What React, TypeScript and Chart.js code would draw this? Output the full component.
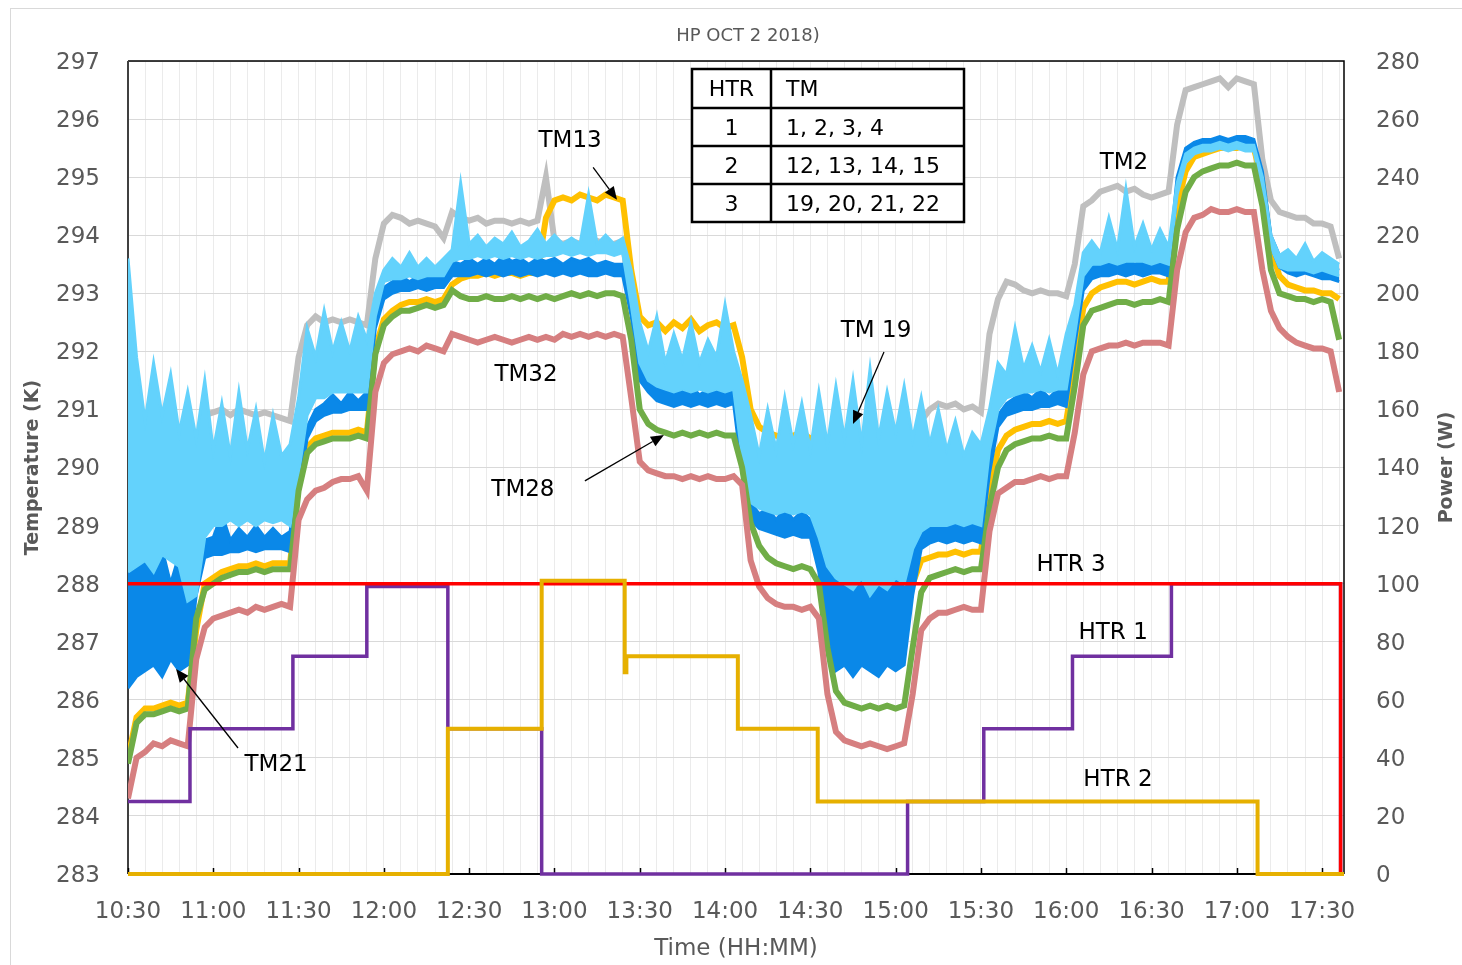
import React, { useEffect, useRef } from 'react';
import { Chart, registerables } from 'chart.js';

Chart.register(...registerables);

// ---------- DATA ----------
// Time axis: minutes after 10:30, temperature samples every 3 minutes.
const START_MIN = 630; // 10:30
const SAMPLE_STEP_MIN = 3;
const X_MAX = 427.7;

// TM32 (pink)
const TM32 = [
  284.3, 285.0, 285.1, 285.25, 285.2, 285.3, 285.25, 285.2, 286.7, 287.25,
  287.4, 287.45, 287.5, 287.55, 287.5, 287.6, 287.55, 287.6, 287.65, 287.6,
  289.1, 289.45, 289.6, 289.65, 289.75, 289.8, 289.8, 289.85, 289.6, 291.3,
  291.8, 291.95, 292.0, 292.05, 292.0, 292.1, 292.05, 292.0, 292.3, 292.25,
  292.2, 292.15, 292.2, 292.25, 292.2, 292.15, 292.2, 292.25, 292.2, 292.25,
  292.2, 292.3, 292.25, 292.3, 292.25, 292.3, 292.25, 292.3, 292.25, 291.2,
  290.1, 289.95, 289.9, 289.85, 289.85, 289.8, 289.85, 289.8, 289.85, 289.8,
  289.8, 289.85, 289.7, 288.4, 287.95, 287.75, 287.65, 287.6, 287.6, 287.55,
  287.6, 287.4, 286.1, 285.45, 285.3, 285.25, 285.2, 285.25, 285.2, 285.15,
  285.2, 285.25, 286.1, 287.2, 287.4, 287.5, 287.5, 287.55, 287.6, 287.55,
  287.55, 288.9, 289.55, 289.65, 289.75, 289.75, 289.8, 289.85, 289.8, 289.85,
  289.85, 290.6, 291.6, 292.0, 292.05, 292.1, 292.1, 292.15, 292.1, 292.15,
  292.15, 292.15, 292.1, 293.4, 294.05, 294.3, 294.35, 294.45, 294.4, 294.4,
  294.45, 294.4, 294.4, 293.4, 292.7, 292.4, 292.25, 292.15, 292.1, 292.05,
  292.05, 292.0, 291.3,
];

// TM28 (green)
const TM28 = [
  284.9, 285.6, 285.75, 285.75, 285.8, 285.85, 285.8, 285.85, 287.4, 287.9,
  288.0, 288.1, 288.15, 288.2, 288.2, 288.25, 288.2, 288.25, 288.25, 288.25,
  289.6, 290.25, 290.4, 290.45, 290.5, 290.5, 290.5, 290.55, 290.5, 291.95,
  292.45, 292.6, 292.7, 292.7, 292.75, 292.8, 292.75, 292.8, 293.05, 292.95,
  292.9, 292.9, 292.95, 292.9, 292.9, 292.95, 292.9, 292.95, 292.9, 292.95,
  292.9, 292.95, 293.0, 292.95, 293.0, 292.95, 293.0, 293.0, 292.95, 292.2,
  291.0, 290.75, 290.65, 290.6, 290.55, 290.6, 290.55, 290.6, 290.55, 290.6,
  290.55, 290.55, 290.0, 289.05, 288.65, 288.45, 288.35, 288.3, 288.25, 288.3,
  288.25, 288.0, 286.9, 286.15, 285.95, 285.9, 285.85, 285.9, 285.85, 285.9,
  285.85, 285.9, 286.9, 287.85, 288.1, 288.15, 288.2, 288.25, 288.2, 288.25,
  288.25, 289.3, 290.0, 290.3, 290.4, 290.45, 290.5, 290.5, 290.55, 290.5,
  290.5, 291.4, 292.45, 292.7, 292.75, 292.8, 292.85, 292.85, 292.8, 292.85,
  292.85, 292.9, 292.85, 294.1, 294.75, 295.0, 295.1, 295.15, 295.2, 295.2,
  295.25, 295.2, 295.2, 294.5, 293.4, 293.0, 292.95, 292.9, 292.9, 292.85,
  292.9, 292.85, 292.2,
];

// TM13 (yellow)
const TM13 = [
  285.0, 285.7, 285.85, 285.85, 285.9, 285.95, 285.9, 285.95, 287.2, 288.0,
  288.1, 288.2, 288.25, 288.3, 288.3, 288.35, 288.3, 288.35, 288.35, 288.35,
  289.7, 290.35, 290.5, 290.55, 290.6, 290.6, 290.6, 290.65, 290.6, 292.05,
  292.55, 292.7, 292.8, 292.85, 292.85, 292.9, 292.85, 292.9, 293.15, 293.25,
  293.3, 293.3, 293.35, 293.3, 293.35, 293.35, 293.3, 293.35, 293.35, 294.3,
  294.6, 294.65, 294.6, 294.7, 294.65, 294.6, 294.7, 294.65, 294.6, 293.4,
  292.6, 292.45, 292.5, 292.35, 292.5, 292.4, 292.55, 292.35, 292.45, 292.5,
  292.4, 292.45, 291.9, 291.0, 290.7, 290.6, 290.55, 290.5, 290.55, 290.6,
  290.5, 290.2, 288.9, 288.0, 287.7, 287.5, 287.8, 287.4, 287.7, 287.3,
  287.75, 287.5, 288.0, 288.4, 288.45, 288.5, 288.5, 288.55, 288.5, 288.55,
  288.55, 289.6, 290.3, 290.55, 290.65, 290.7, 290.75, 290.75, 290.8, 290.75,
  290.8, 291.7, 292.75, 293.0, 293.1, 293.15, 293.2, 293.2, 293.15, 293.2,
  293.25, 293.2, 293.2, 294.5, 295.1, 295.35, 295.4, 295.45, 295.5, 295.5,
  295.5, 295.55, 295.5, 294.9, 293.75, 293.3, 293.15, 293.1, 293.05, 293.05,
  293.0, 293.0, 292.9,
];

// TM21 (dark blue) lower / upper envelope of the noisy trace
const TM21_LOW = [
  286.2, 286.4, 286.5, 286.6, 286.4, 286.7, 286.5, 286.6, 287.8, 288.45,
  288.5, 288.5, 288.55, 288.55, 288.6, 288.55, 288.6, 288.6, 288.6, 288.55,
  289.6, 290.5, 290.8, 290.9, 290.95, 290.95, 291.0, 291.0, 291.0, 292.4,
  292.9, 293.0, 293.05, 293.05, 293.1, 293.05, 293.1, 293.1, 293.3, 293.3,
  293.3, 293.35, 293.3, 293.35, 293.3, 293.35, 293.3, 293.35, 293.3, 293.35,
  293.3, 293.35, 293.3, 293.35, 293.3, 293.3, 293.35, 293.3, 293.3, 292.6,
  291.5, 291.3, 291.15, 291.1, 291.05, 291.1, 291.05, 291.1, 291.05, 291.1,
  291.05, 291.1, 289.9, 289.1, 288.95, 288.9, 288.85, 288.8, 288.85, 288.8,
  288.8, 288.2, 286.9, 286.5, 286.6, 286.4, 286.6, 286.5, 286.4, 286.6,
  286.5, 286.6, 287.8, 288.6, 288.7, 288.75, 288.7, 288.75, 288.7, 288.75,
  288.7, 289.9, 290.7, 290.9, 290.95, 291.0, 291.0, 291.05, 291.05, 291.1,
  291.05, 292.1, 293.05, 293.25, 293.3, 293.3, 293.35, 293.3, 293.35, 293.3,
  293.35, 293.35, 293.3, 294.8, 295.35, 295.5, 295.5, 295.55, 295.55, 295.55,
  295.6, 295.55, 295.55, 294.9, 293.8, 293.45, 293.35, 293.3, 293.35, 293.3,
  293.25, 293.25, 293.2,
];
const TM21_HIGH = [
  289.0, 288.3, 288.9, 288.2, 288.6, 288.0, 288.5, 287.9, 288.4, 288.75,
  288.8, 289.2, 288.75, 288.95, 288.8, 289.0, 288.8, 288.95, 288.8, 288.9,
  289.8, 290.7, 291.0, 291.1, 291.25, 291.1, 291.3, 291.15, 291.3, 292.6,
  293.1, 293.2, 293.3, 293.2, 293.3, 293.25, 293.3, 293.25, 293.55, 293.5,
  293.6, 293.5, 293.6, 293.5, 293.65, 293.55, 293.6, 293.5, 293.6, 293.55,
  293.6, 293.5, 293.6, 293.55, 293.6, 293.5, 293.55, 293.5, 293.5, 292.9,
  291.7, 291.5, 291.4, 291.3, 291.35, 291.3, 291.4, 291.25, 291.35, 291.3,
  291.4, 291.3, 290.3, 289.4, 289.2, 289.3, 289.1, 289.3, 289.1, 289.25,
  289.1, 288.9, 288.5, 288.2, 288.6, 288.0, 288.5, 288.1, 288.6, 288.0,
  288.4, 288.2, 288.6, 288.9, 289.0, 289.05, 289.1, 289.0, 289.1, 289.05,
  289.1, 290.1, 290.9, 291.1, 291.2, 291.3, 291.2, 291.35, 291.2, 291.35,
  291.4, 292.3, 293.25, 293.45, 293.5, 293.6, 293.5, 293.6, 293.5, 293.55,
  293.5, 293.6, 293.5, 295.0, 295.5, 295.6, 295.65, 295.65, 295.7, 295.65,
  295.7, 295.7, 295.65, 295.1, 294.0, 293.65, 293.6, 293.5, 293.55, 293.5,
  293.45, 293.45, 293.4,
];

// TM19 (light blue) lower / upper envelope of the noisy trace
const TM19_LOW = [
  288.2, 288.3, 288.4, 288.2, 288.5, 288.4, 288.3, 287.7, 287.8, 288.8,
  289.0, 289.0, 289.1, 289.0, 289.1, 289.0, 289.1, 289.05, 289.1, 289.0,
  289.9, 290.9, 291.2, 291.2, 291.3, 291.3, 291.3, 291.3, 291.3, 292.6,
  293.2, 293.25, 293.25, 293.3, 293.25, 293.3, 293.3, 293.3, 293.55, 293.6,
  293.6, 293.65, 293.6, 293.65, 293.6, 293.65, 293.6, 293.65, 293.6, 293.65,
  293.65, 293.7, 293.65, 293.7, 293.65, 293.7, 293.7, 293.65, 293.7, 292.8,
  291.8, 291.5, 291.4, 291.35, 291.3, 291.35, 291.3, 291.35, 291.3, 291.35,
  291.3, 291.35, 290.2, 289.4, 289.3, 289.25, 289.2, 289.25, 289.2, 289.25,
  289.2, 288.8, 288.3, 288.1, 288.0, 287.9, 288.1, 287.8, 288.0, 287.9,
  288.1, 288.0, 288.6, 288.9, 289.0, 289.0, 289.0, 289.05, 289.0, 289.05,
  289.0, 290.3, 291.0, 291.2, 291.25, 291.3, 291.3, 291.35, 291.3, 291.35,
  291.35, 292.3, 293.3, 293.5, 293.5, 293.55, 293.5, 293.55, 293.55, 293.55,
  293.5, 293.55, 293.5, 294.7, 295.25, 295.4, 295.45, 295.45, 295.5, 295.45,
  295.5, 295.45, 295.45, 294.8, 293.8, 293.45, 293.4, 293.4, 293.4, 293.35,
  293.4, 293.35, 293.3,
];
const TM19_HIGH = [
  293.6, 291.9, 290.8, 291.8, 290.9, 291.6, 290.6, 291.3, 290.5, 291.5,
  290.3, 291.1, 290.2, 291.3, 290.3, 291.0, 290.1, 290.9, 290.2, 290.4,
  291.2, 292.4, 291.9, 292.7, 292.0, 292.5, 292.0, 292.6, 292.2, 293.0,
  293.4, 293.6, 293.45, 293.7, 293.45, 293.6, 293.45, 293.6, 293.75, 294.9,
  293.85, 294.0, 293.8, 293.95, 293.85, 294.05, 293.8, 293.9, 294.1, 293.85,
  294.0, 293.85, 293.95, 293.85, 294.7, 293.85, 294.0, 293.85, 293.95, 293.4,
  292.5, 292.0, 292.6, 291.8, 292.3, 291.85, 292.5, 291.8, 292.2, 291.9,
  292.8, 292.0, 291.5, 290.9, 290.2, 291.0, 290.3, 291.2, 290.4, 291.1,
  290.3, 291.3, 290.4, 291.4, 290.5, 291.5, 290.4, 291.7, 290.5, 291.3,
  290.6, 291.4, 290.5, 291.2, 290.4, 291.0, 290.3, 290.8, 290.2, 290.6,
  290.4, 291.0, 291.8, 291.6, 292.4, 291.7, 292.1, 291.65, 292.2, 291.6,
  292.3, 292.8, 293.7, 293.9, 293.7, 294.3, 293.75, 294.8, 293.8, 294.2,
  293.75, 294.1, 293.8, 294.9, 295.4, 295.5, 295.55, 295.55, 295.6, 295.55,
  295.6, 295.55, 295.55, 295.0, 294.0, 293.65, 293.75, 293.6, 293.85, 293.55,
  293.7, 293.6, 293.5,
];

// TM2 (gray)
const TM2 = [
  288.6, 288.7, 288.6, 288.5, 288.6, 288.7, 288.6, 288.7, 290.1, 290.9,
  290.95, 291.0, 290.9, 291.0, 290.95, 290.9, 290.95, 290.9, 290.85, 290.8,
  291.9, 292.45, 292.6, 292.5, 292.55, 292.5, 292.55, 292.5, 292.45, 293.6,
  294.2, 294.35, 294.3, 294.2, 294.25, 294.2, 294.15, 293.95, 294.4, 294.3,
  294.25, 294.3, 294.2, 294.25, 294.25, 294.2, 294.25, 294.2, 294.25, 295.0,
  293.9, 293.85, 293.9, 293.85, 293.85, 293.9, 293.85, 293.85, 293.9, 292.8,
  291.9, 291.6, 291.55, 291.5, 291.5, 291.45, 291.5, 291.45, 291.5, 291.5,
  291.45, 291.5, 290.6, 289.8, 289.6, 289.55, 289.5, 289.5, 289.55, 289.5,
  289.5, 289.2, 288.6, 288.3, 288.2, 288.2, 288.15, 288.2, 288.2, 288.15,
  288.2, 288.3, 290.2, 290.8, 291.0, 291.1, 291.05, 291.1, 291.0, 291.05,
  290.95, 292.3, 292.9, 293.2, 293.15, 293.05, 293.0, 293.05, 293.0, 293.0,
  292.95, 293.5, 294.5, 294.6, 294.75, 294.8, 294.85, 294.75, 294.8, 294.7,
  294.65, 294.7, 294.75, 295.9, 296.5, 296.55, 296.6, 296.65, 296.7, 296.55,
  296.7, 296.65, 296.6, 295.3, 294.6, 294.4, 294.35, 294.3, 294.3, 294.2,
  294.2, 294.15, 293.6,
];

// Heater powers (W): value switches to HTRx_W[i] at time HTRx_T[i] (minutes after 10:30)
const HTR1_T = [0, 21.8, 58, 84, 112.5, 145.5, 274.2, 301, 332.2, 367, 426.5, 427.7];
const HTR1_W = [25, 50, 75, 99, 50, 0, 25, 50, 75, 100, 0, 0];
const HTR2_T = [0, 112.5, 145.5, 174.7, 175.3, 214.5, 242.6, 397.3, 427.7];
const HTR2_W = [0, 50, 101, 69.5, 75, 50, 25, 0, 0];
const HTR3_T = [0, 426.5, 427.7];
const HTR3_W = [100, 0, 0];

// Text labels (minutes after 10:30, temperature K)
const LABELS = [
  { text: 'TM13', x: 155.5, y: 295.64 },
  { text: 'TM2', x: 350.3, y: 295.26 },
  { text: 'TM32', x: 140.0, y: 291.61 },
  { text: 'TM28', x: 138.9, y: 289.63 },
  { text: 'TM 19', x: 263.1, y: 292.37 },
  { text: 'TM21', x: 52.1, y: 284.89 },
  { text: 'HTR 3', x: 331.7, y: 288.34 },
  { text: 'HTR 1', x: 346.5, y: 287.17 },
  { text: 'HTR 2', x: 348.2, y: 284.64 },
];
const ARROWS = [
  { x1: 163.6, y1: 295.17, x2: 172.0, y2: 294.61 },
  { x1: 160.7, y1: 289.77, x2: 188.5, y2: 290.56 },
  { x1: 265.9, y1: 291.99, x2: 255.0, y2: 290.75 },
  { x1: 38.7, y1: 285.17, x2: 16.9, y2: 286.53 },
];
const TABLE_ROWS = [
  ['HTR', 'TM'],
  ['1', '1, 2, 3, 4'],
  ['2', '12, 13, 14, 15'],
  ['3', '19, 20, 21, 22'],
];

const TITLE = 'HP OCT 2 2018)';
const Y_TITLE = 'Temperature (K)';
const Y1_TITLE = 'Power (W)';
const X_TITLE = 'Time (HH:MM)';

// ---------- HELPERS ----------
const FONT = '"DejaVu Sans", sans-serif';
const AXIS_GRAY = '#595959';

const series = (arr: number[]) => arr.map((v, i) => ({ x: i * SAMPLE_STEP_MIN, y: v }));
const steps = (t: number[], w: number[]) => t.map((x, i) => ({ x, y: w[i] }));
const fmtTime = (m: number) => {
  const tot = START_MIN + m;
  return `${Math.floor(tot / 60)}:${String(Math.round(tot % 60)).padStart(2, '0')}`;
};

const overlayPlugin = {
  id: 'overlay',
  beforeDraw(chart: any) {
    const { ctx, width, height } = chart;
    ctx.save();
    ctx.fillStyle = '#ffffff';
    ctx.fillRect(0, 0, width, height);
    ctx.strokeStyle = '#d9d9d9';
    ctx.lineWidth = 1;
    ctx.strokeRect(10.5, 8.5, width + 40, height + 40);
    ctx.restore();
  },
  beforeDatasetsDraw(chart: any) {
    const { ctx, chartArea: a } = chart;
    const xs = chart.scales.x;
    ctx.save();
    ctx.strokeStyle = '#000';
    ctx.lineWidth = 1.5;
    ctx.beginPath();
    ctx.moveTo(a.left, a.top);
    ctx.lineTo(a.right, a.top);
    ctx.lineTo(a.right, a.bottom);
    ctx.stroke();
    ctx.lineWidth = 2;
    ctx.beginPath();
    ctx.moveTo(a.left, a.bottom);
    ctx.lineTo(a.right, a.bottom);
    ctx.stroke();
    ctx.strokeStyle = '#404040';
    ctx.beginPath();
    ctx.moveTo(a.left, a.top);
    ctx.lineTo(a.left, a.bottom);
    ctx.stroke();
    ctx.strokeStyle = '#000';
    ctx.lineWidth = 1.5;
    for (let m = 0; m <= X_MAX; m += 30) {
      const px = Math.round(xs.getPixelForValue(m)) + 0.5;
      ctx.beginPath();
      ctx.moveTo(px, a.bottom);
      ctx.lineTo(px, a.bottom - 6);
      ctx.stroke();
    }
    ctx.restore();
  },
  afterDraw(chart: any) {
    const { ctx, chartArea: a } = chart;
    const xs = chart.scales.x;
    const ys = chart.scales.y;
    const cx = (a.left + a.right) / 2;
    const cy = (a.top + a.bottom) / 2;
    ctx.save();
    ctx.textAlign = 'center';
    ctx.textBaseline = 'middle';

    // title
    ctx.fillStyle = AXIS_GRAY;
    ctx.font = `18px ${FONT}`;
    ctx.fillText(TITLE, cx + 12, 36);

    // axis titles
    ctx.font = `23px ${FONT}`;
    ctx.fillText(X_TITLE, cx, 949);
    ctx.font = `bold 19px ${FONT}`;
    ctx.save();
    ctx.translate(33, cy);
    ctx.rotate(-Math.PI / 2);
    ctx.fillText(Y_TITLE, 0, 0);
    ctx.restore();
    ctx.save();
    ctx.translate(1447, cy);
    ctx.rotate(-Math.PI / 2);
    ctx.fillText(Y1_TITLE, 0, 0);
    ctx.restore();

    // labels
    ctx.fillStyle = '#000';
    ctx.font = `23px ${FONT}`;
    for (const l of LABELS) {
      ctx.fillText(l.text, xs.getPixelForValue(l.x), ys.getPixelForValue(l.y) + 1);
    }
    // arrows
    ctx.strokeStyle = '#000';
    ctx.lineWidth = 1.3;
    for (const ar of ARROWS) {
      const x1 = xs.getPixelForValue(ar.x1), y1 = ys.getPixelForValue(ar.y1);
      const x2 = xs.getPixelForValue(ar.x2), y2 = ys.getPixelForValue(ar.y2);
      const ang = Math.atan2(y2 - y1, x2 - x1);
      const hl = 13, hw = 5.5;
      const bx = x2 - hl * Math.cos(ang), by = y2 - hl * Math.sin(ang);
      ctx.beginPath();
      ctx.moveTo(x1, y1);
      ctx.lineTo(bx, by);
      ctx.stroke();
      ctx.beginPath();
      ctx.moveTo(x2, y2);
      ctx.lineTo(bx + hw * Math.sin(ang), by - hw * Math.cos(ang));
      ctx.lineTo(bx - hw * Math.sin(ang), by + hw * Math.cos(ang));
      ctx.closePath();
      ctx.fill();
    }

    // table
    const tl = a.left + 564, tt = a.top + 8;
    const cw = [79, 193];
    const rh = [39, 38, 38, 38];
    const tw = cw[0] + cw[1];
    const th = rh.reduce((s, v) => s + v, 0);
    ctx.fillStyle = '#fff';
    ctx.fillRect(tl, tt, tw, th);
    ctx.strokeStyle = '#000';
    ctx.lineWidth = 2.5;
    ctx.strokeRect(tl, tt, tw, th);
    ctx.beginPath();
    ctx.moveTo(tl + cw[0], tt);
    ctx.lineTo(tl + cw[0], tt + th);
    let yy = tt;
    for (let r = 0; r < rh.length - 1; r++) {
      yy += rh[r];
      ctx.moveTo(tl, yy);
      ctx.lineTo(tl + tw, yy);
    }
    ctx.stroke();
    ctx.fillStyle = '#000';
    ctx.font = `22px ${FONT}`;
    yy = tt;
    for (let r = 0; r < TABLE_ROWS.length; r++) {
      const my = yy + rh[r] / 2 + 2;
      ctx.textAlign = 'center';
      ctx.fillText(TABLE_ROWS[r][0], tl + cw[0] / 2, my);
      ctx.textAlign = 'left';
      ctx.fillText(TABLE_ROWS[r][1], tl + cw[0] + 15, my);
      yy += rh[r];
    }
    ctx.restore();
  },
};

export default function App() {
  const ref = useRef<HTMLCanvasElement | null>(null);

  useEffect(() => {
    if (!ref.current) return;
    const tickFont = { family: FONT, size: 23 };
    const line = (label: string, data: any[], color: string, width: number, extra: any = {}) => ({
      label,
      data,
      borderColor: color,
      backgroundColor: color,
      borderWidth: width,
      pointRadius: 0,
      tension: 0,
      fill: false,
      yAxisID: 'y',
      ...extra,
    });
    const chart = new Chart(ref.current, {
      type: 'line',
      data: {
        datasets: [
          line('HTR 2', steps(HTR2_T, HTR2_W), '#E6B000', 4, { yAxisID: 'y1', stepped: true, clip: false }),
          line('HTR 3', steps(HTR3_T, HTR3_W), '#FF0000', 3.5, { yAxisID: 'y1', stepped: true, clip: false }),
          line('HTR 1', steps(HTR1_T, HTR1_W), '#7030A0', 3.5, { yAxisID: 'y1', stepped: true, clip: false }),
          line('TM32', series(TM32), '#D67F80', 6),
          line('TM28', series(TM28), '#70AD47', 6),
          line('TM19 high', series(TM19_HIGH), '#63D2FC', 3, { fill: '+1' }),
          line('TM19 low', series(TM19_LOW), '#63D2FC', 3),
          line('TM21 high', series(TM21_HIGH), '#0A88E8', 3, { fill: '+1' }),
          line('TM21 low', series(TM21_LOW), '#0A88E8', 3),
          line('TM13', series(TM13), '#FFC000', 6),
          line('TM2', series(TM2), '#BFBFBF', 6),
        ],
      },
      options: {
        responsive: false,
        animation: false,
        devicePixelRatio: 1,
        layout: { padding: { top: 61, left: 0, right: 0, bottom: 0 } },
        plugins: {
          legend: { display: false },
          tooltip: { enabled: false },
          title: { display: false },
        },
        scales: {
          x: {
            type: 'linear',
            min: 0,
            max: X_MAX,
            afterBuildTicks: (s: any) => {
              const t = [];
              for (let m = 0; m <= X_MAX; m += 6) t.push({ value: m });
              s.ticks = t;
            },
            afterFit: (s: any) => { s.height = 91; },
            grid: { color: '#ebebeb', drawTicks: false, lineWidth: 1 },
            border: { display: false },
            ticks: {
              autoSkip: false,
              maxRotation: 0,
              minRotation: 0,
              padding: 24,
              font: tickFont,
              color: AXIS_GRAY,
              callback: (v: any) => (Number(v) % 30 === 0 ? fmtTime(Number(v)) : ''),
            },
          },
          y: {
            position: 'left',
            min: 283,
            max: 297,
            afterFit: (s: any) => { s.width = 128; },
            grid: { color: '#d9d9d9', drawTicks: false, lineWidth: 1 },
            border: { display: false },
            ticks: { stepSize: 1, padding: 28, labelOffset: 2, font: tickFont, color: AXIS_GRAY },
          },
          y1: {
            position: 'right',
            min: 0,
            max: 280,
            afterFit: (s: any) => { s.width = 118; },
            grid: { display: false, drawTicks: false },
            border: { display: false },
            ticks: { stepSize: 20, padding: 32, labelOffset: 2, font: tickFont, color: AXIS_GRAY },
          },
        },
      } as any,
      plugins: [overlayPlugin as any],
    });
    return () => chart.destroy();
  }, []);

  return (
    <div style={{ position: 'fixed', left: 0, top: 0, width: 1462, height: 965, background: '#fff' }}>
      <canvas ref={ref} width={1462} height={965} style={{ display: 'block' }} />
    </div>
  );
}
